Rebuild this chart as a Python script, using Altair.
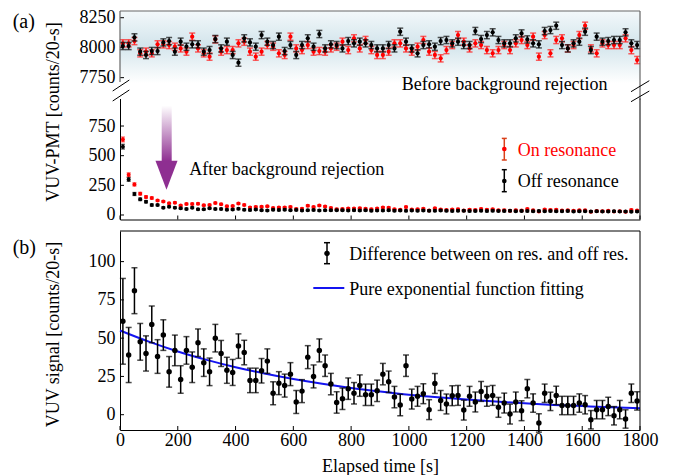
import altair as alt
import pandas as pd

FONT = "Liberation Serif"
W = 520
H1, H2, H3 = 76, 121, 199
SP = 11.5

# ---------------- data ----------------
times = list(range(10, 1800, 20))  # 20-s bins
x_ticks = [0, 200, 400, 600, 800, 1000, 1200, 1400, 1600, 1800]
top_ticks = [7750, 8000, 8250]
low_ticks = [0, 250, 500, 750]
b_ticks = [0, 25, 50, 75, 100]

# (a) before background rejection
top_on = [8036, 8036, 8055, 7953, 7967, 7953, 8028, 8028, 8022, 8008,
          7994, 7967, 8092, 7994, 7953, 7925, 8069, 7967, 7980, 7980,
          8036, 8050, 7967, 7925, 7967, 8022, 8008, 7953, 7939, 8092,
          7994, 7980, 8022, 7967, 7972, 7967, 7994, 8008,
          8050, 7980, 8078, 7994, 8064, 7980, 7939, 7939, 7967, 8036,
          8036, 7994, 7967, 8008, 8064, 7967, 7939, 7911, 7980, 8022,
          8105, 8050, 7994, 8036, 8022, 7980, 7953, 7980, 8022, 7980,
          8036, 8064, 8022, 8092, 7925, 8105, 7953, 8064, 8078, 7994,
          8022, 8105, 8183, 7994, 7953, 8036, 8022, 8022, 8022, 8078,
          7980, 7897]
top_off = [8014, 8014, 8086, 7967, 7939, 7972, 7972, 8044, 8055, 7967,
           8050, 8008, 8028, 8028, 7967, 7980, 8072, 7994, 8050, 7939,
           7875, 8078, 8044, 8008, 8105, 8050, 8022, 8092, 7972, 8022,
           7939, 8022, 8078, 8008, 8114, 7994, 8028, 8022,
           7994, 8055, 8036, 8050, 8036, 8022, 7994, 7994, 8022, 7994,
           8133, 8050, 7994, 7953, 8022, 8028, 8008, 8055, 8064, 8036,
           8050, 8022, 8022, 8139, 8072, 8105, 8128, 8064, 8036, 8036,
           8078, 8119, 8069, 8036, 8028, 8139, 8147, 8183, 8022, 7994,
           8036, 8050, 8133, 7980, 8092, 8050, 8055, 8064, 8064, 8128,
           8036, 8022]
top_err = [30] * 90

# (a) after background rejection
low_on = [637, 339, 258, 180, 152, 143, 122, 114, 98, 104,
          79, 93, 93, 95, 82, 84, 101, 91, 74, 75,
          97, 85, 64, 68, 69, 73, 58, 63, 64, 68,
          51, 53, 78, 67, 80, 72, 59, 49, 50, 55,
          54, 57, 52, 49, 54, 64, 62, 48, 44, 67,
          47, 48, 52, 38, 56, 47, 42, 46, 49, 38,
          45, 42, 51, 45, 48, 39, 41, 35, 40, 37,
          50, 39, 29, 46, 42, 44, 38, 39, 36, 39,
          39, 27, 34, 32, 35, 30, 32, 27, 42, 38]
low_off = [576, 300, 177, 132, 112, 84, 84, 62, 70, 62,
           56, 51, 62, 48, 48, 56, 51, 51, 45, 47,
           52, 44, 42, 46, 40, 38, 44, 42, 45, 41,
           43, 38, 40, 42, 38, 40, 39, 41, 40, 38,
           40, 38, 39, 36, 38, 37, 40, 36, 38, 35,
           37, 36, 38, 35, 36, 38, 35, 34, 36, 35,
           33, 34, 36, 33, 35, 34, 33, 35, 32, 34,
           33, 31, 34, 32, 33, 31, 32, 33, 30, 31,
           32, 30, 31, 29, 30, 31, 29, 30, 28, 29]
low_err = [20, 16, 13, 11, 10, 9] + [7] * 84

# (b) difference
diff = [61, 39, 81, 47.6, 40, 59, 38, 52, 28, 42,
        23, 42, 31, 47, 34, 28, 50, 40, 29, 27.6,
        44.8, 40.6, 22.4, 22.4, 28.7, 35, 14, 20.6, 19, 26.5,
        8.3, 15.4, 37.6, 25, 42, 32, 20, 8, 10.4, 17,
        14, 19, 13, 13, 15.6, 26.5, 21.5, 11.5, 6.3, 32,
        10.2, 12, 13.7, 3.3, 20.4, 9.3, 7, 12.4, 12.6, 3,
        12, 8.3, 15.2, 12, 12.6, 4.8, 7.6, 0.4, 8.3, 2.6,
        17, 7.6, -5.4, 14, 8.7, 12.6, 6, 6, 6, 7.6,
        6.5, -3.3, 3.3, 3.3, 5.4, -0.7, 3.3, -2.8, 14, 9]
diff_err = ([28, 18, 15, 12, 11.5, 12, 11, 10, 10, 10,
             9, 9, 10, 9, 9, 9, 9, 8.5, 8.5, 8.5,
             8, 8, 8, 8, 8, 8, 7.5, 7.5, 7.5, 7.5,
             7.5, 7.5, 7.5, 7.5, 7.5, 7, 7, 7, 7, 7]
            + [7] * 10 + [6.5] * 20 + [6] * 20)

fit_t = [0, 100, 200, 300, 400, 500, 600, 700, 800, 900, 1000,
         1100, 1200, 1300, 1400, 1500, 1600, 1700, 1800]
fit_v = [55, 47.7, 41.3, 35.8, 31.0, 26.9, 23.3, 20.2, 17.5, 15.2, 13.1,
         11.4, 9.9, 8.6, 7.4, 6.4, 5.6, 4.8, 4.2]

# ---------------- helpers ----------------
xs = alt.Scale(domain=[0, 1800], nice=False, zero=False)
ys_top = alt.Scale(domain=[7672, 8306], nice=False, zero=False)
ys_low = alt.Scale(domain=[-38, 982], nice=False, zero=False)
ys_b = alt.Scale(domain=[-10, 120], nice=False, zero=False)

one = pd.DataFrame({"k": [0]})


def sdf(vals, errs):
    return pd.DataFrame({
        "t": times, "v": vals,
        "lo": [v - e for v, e in zip(vals, errs)],
        "hi": [v + e for v, e in zip(vals, errs)],
    })


def err_layers(df, ys, xax, yax, color, ptsize, capw, sw, barcolor=None):
    bc = barcolor or color
    base = alt.Chart(df)
    X = alt.X("t:Q", scale=xs, axis=xax)
    bar = base.mark_rule(color=bc, strokeWidth=sw).encode(
        x=X, y=alt.Y("lo:Q", scale=ys, axis=yax), y2="hi:Q")
    c1 = base.mark_tick(color=bc, orient="horizontal", size=capw, thickness=sw).encode(
        x=X, y=alt.Y("lo:Q", scale=ys, axis=yax))
    c2 = base.mark_tick(color=bc, orient="horizontal", size=capw, thickness=sw).encode(
        x=X, y=alt.Y("hi:Q", scale=ys, axis=yax))
    pt = base.mark_point(filled=True, color=color, size=ptsize, opacity=1).encode(
        x=X, y=alt.Y("v:Q", scale=ys, axis=yax))
    return [bar, c1, c2, pt]


def ytick_layer(vals, ys, axis, color="black"):
    df = pd.DataFrame({"yv": vals})
    return alt.Chart(df).mark_rule(color=color, strokeWidth=1).encode(
        x=alt.value(0), x2=alt.value(4), y=alt.Y("yv:Q", scale=ys, axis=axis))


def xtick_layer(H, axis):
    df = pd.DataFrame({"xv": x_ticks})
    return alt.Chart(df).mark_rule(color="black", strokeWidth=1).encode(
        x=alt.X("xv:Q", scale=xs, axis=axis), y=alt.value(H - 4), y2=alt.value(H))


def seg(x1, y1, x2, y2, color="black", sw=1):
    return alt.Chart(one).mark_rule(color=color, strokeWidth=sw).encode(
        x=alt.value(x1), y=alt.value(y1), x2=alt.value(x2), y2=alt.value(y2))


def label(x, y, s, size=18, color="black", align="left", baseline="middle"):
    return alt.Chart(one).mark_text(text=s, font=FONT, fontSize=size, color=color,
                                    align=align, baseline=baseline).encode(
        x=alt.value(x), y=alt.value(y))


# ---------------- panel (a) top ----------------
bg_grad = alt.LinearGradient(
    gradient="linear", x1=0, x2=0, y1=0, y2=1,
    stops=[alt.GradientStop(color="#f3f8fa", offset=0),
           alt.GradientStop(color="#d3e5ec", offset=0.45),
           alt.GradientStop(color="#ffffff", offset=0.95)])
bg = alt.Chart(one).mark_rect(color=bg_grad).encode(
    x=alt.value(0), x2=alt.value(W), y=alt.value(0), y2=alt.value(H1))

ax_top = alt.Axis(values=top_ticks, format="d", domain=False, title=None, labelFlush=False)
FR = "#666666"
topA = alt.layer(
    bg,
    *err_layers(sdf(top_on, top_err), ys_top, None, ax_top, "#ff0000", 18, 6, 1.5, "#ff2020"),
    *err_layers(sdf(top_off, top_err), ys_top, None, ax_top, "black", 18, 6, 1.5, "#111111"),
    ytick_layer(top_ticks, ys_top, ax_top),
    seg(0, 0, W, 0, FR, 1.2),
    seg(W, 0, W, H1 + SP + 1, FR, 1.2),
    seg(0, 0, 0, 71, FR, 1.2),
    seg(-7.3, 80, 9.3, 69), seg(-7.3, 90, 9.3, 79),
    seg(511, 80.7, 529.3, 69.7), seg(511, 90.7, 529.3, 80),
    label(281.7, 79, "Before background rejection", baseline="alphabetic"),
    label(-107.3, 10.7, "(a)", size=20),
).properties(width=W, height=H1)

# ---------------- panel (a) bottom ----------------
shaft_grad = alt.LinearGradient(
    gradient="linear", x1=0, x2=0, y1=0, y2=1,
    stops=[alt.GradientStop(color="#ffffff", offset=0),
           alt.GradientStop(color="#8e2f91", offset=1)])
shaft = alt.Chart(one).mark_rect(color=shaft_grad).encode(
    x=alt.value(41.7), x2=alt.value(51.7), y=alt.value(7), y2=alt.value(63))
head = alt.Chart(one).mark_point(shape="M-0.76,-1L0.76,-1L0,1Z", size=841, filled=True,
                                 color="#8e2f91", opacity=1).encode(
    x=alt.value(46.5), y=alt.value(76.7))

ax_low = alt.Axis(values=low_ticks, format="d", domain=True, title="VUV-PMT [counts/20-s]",
                  titleX=-62, titleY=13, titleAngle=270, titleAlign="center",
                  titleBaseline="alphabetic", labelFlush=False)
ax_lowx = alt.Axis(values=x_ticks, labels=False, domain=True, title=None)

lowA = alt.layer(
    shaft, head,
    *err_layers(sdf(low_on, low_err), ys_low, ax_lowx, ax_low, "#ff0000", 16, 4, 1.2),
    *err_layers(sdf(low_off, low_err), ys_low, ax_lowx, ax_low, "black", 16, 4, 1.2),
    ytick_layer(low_ticks, ys_low, ax_low),
    xtick_layer(H2, ax_lowx),
    seg(W, 0, W, H2, "black", 1),
    # legend
    seg(384.3, 39.9, 384.3, 61.5, "#d9401a", 1.5),
    seg(381.8, 39.9, 386.8, 39.9, "#d9401a", 1.5),
    seg(381.8, 61.5, 386.8, 61.5, "#d9401a", 1.5),
    seg(384.3, 71.2, 384.3, 93.2, "black", 1.5),
    seg(381.8, 71.2, 386.8, 71.2, "black", 1.5),
    seg(381.8, 93.2, 386.8, 93.2, "black", 1.5),
    alt.Chart(one).mark_point(filled=True, color="#ff0000", size=22, opacity=1).encode(
        x=alt.value(384.3), y=alt.value(50.5)),
    alt.Chart(one).mark_point(filled=True, color="black", size=22, opacity=1).encode(
        x=alt.value(384.3), y=alt.value(82.5)),
    label(397.7, 52.2, "On resonance", color="#ff0000"),
    label(397.7, 83.2, "Off resonance"),
    label(69.3, 76.5, "After background rejection", baseline="alphabetic"),
).properties(width=W, height=H2)

# ---------------- panel (b) ----------------
ax_b = alt.Axis(values=b_ticks, format="d", domain=True, title="VUV signal [counts/20-s]",
                titleX=-61.5, titleY=103, titleAngle=270, titleAlign="center",
                titleBaseline="alphabetic", labelFlush=False)
ax_bx = alt.Axis(values=x_ticks, format="d", domain=True, title="Elapsed time [s]",
                 labelPadding=1, titlePadding=8, labelFlush=False, labelOverlap=False)

fit_df = pd.DataFrame({"t": fit_t, "v": fit_v})
fit = alt.Chart(fit_df).mark_line(color="#1414f0", strokeWidth=2, interpolate="monotone").encode(
    x=alt.X("t:Q", scale=xs, axis=ax_bx), y=alt.Y("v:Q", scale=ys_b, axis=ax_b))

b = alt.layer(
    fit,
    *err_layers(sdf(diff, diff_err), ys_b, ax_bx, ax_b, "black", 30, 6, 1.5),
    ytick_layer(b_ticks, ys_b, ax_b),
    xtick_layer(H3, ax_bx),
    seg(0, 0, W, 0, "black", 1),
    seg(W, 0, W, H3, "black", 1),
    # legend
    seg(207, 11.7, 207, 32.7, "black", 1.5),
    seg(204, 11.7, 210, 11.7, "black", 1.5),
    seg(204, 32.7, 210, 32.7, "black", 1.5),
    alt.Chart(one).mark_point(filled=True, color="black", size=30, opacity=1).encode(
        x=alt.value(207), y=alt.value(22.4)),
    label(229.3, 24, "Difference between on res. and off res."),
    seg(193.3, 57, 224.3, 57, "#1414f0", 2),
    label(229.3, 59, "Pure exponential function fitting"),
    label(-107.3, 16.5, "(b)", size=20),
).properties(width=W, height=H3)

chart = alt.vconcat(topA, lowA, b, spacing=SP, bounds="flush").properties(
    padding={"left": 4, "top": 0, "right": 6, "bottom": 0}
).configure_view(stroke=None).configure_axis(
    labelFont=FONT, labelFontSize=18, labelColor="black",
    titleFont=FONT, titleFontSize=18, titleFontWeight="normal", titleColor="black",
    ticks=False, tickSize=0, grid=False, domainColor="black", domainWidth=1,
    labelPadding=5,
)

chart.save("out.html", embed_options={"renderer": "svg", "actions": False})
